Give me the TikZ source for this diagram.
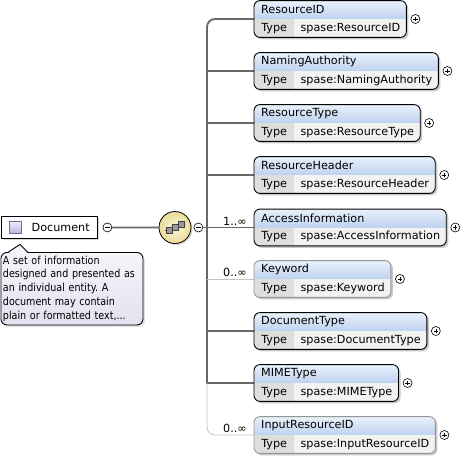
\documentclass[tikz,border=0pt]{standalone}
\usepackage{fontspec}
\setmainfont{DejaVu Sans}
\newfontfamily\notefont[FakeStretch=0.87]{DejaVu Sans}
\usetikzlibrary{positioning,shadows}
\definecolor{linegrey}{RGB}{104,104,104}
\definecolor{optgrey}{RGB}{196,196,196}
\definecolor{optframe}{RGB}{150,150,150}
\definecolor{headtop}{RGB}{234,241,251}
\definecolor{headbot}{RGB}{190,210,240}
\definecolor{keygrey}{RGB}{222,222,222}
\definecolor{valgrey}{RGB}{242,242,242}
\definecolor{notetop}{RGB}{245,244,251}
\definecolor{notebot}{RGB}{228,225,240}
\definecolor{seqyellow}{RGB}{250,244,200}
\definecolor{seqedge}{RGB}{232,220,150}
\definecolor{lavender}{RGB}{190,176,228}
\pgfdeclarelayer{background}
\pgfsetlayers{background,main}
\tikzset{
  keycell/.style={minimum width=40pt,minimum height=18pt,inner sep=0pt},
  valcell/.style={minimum height=18pt,inner ysep=0pt,inner xsep=6pt},
  headcell/.style={anchor=south west,minimum height=18pt,inner ysep=0pt,inner xsep=7pt},
  reqframe/.style={draw=black,line width=0.9pt,rounded corners=6pt},
  optbox/.style={draw=optframe,line width=0.9pt,rounded corners=6pt},
  boxshadow/.style={fill=black,opacity=0.22,rounded corners=6pt},
  pm/.style={circle,draw=black,fill=white,line width=0.6pt,minimum size=9pt,inner sep=0pt},
  plus/.style={pm,path picture={
      \draw[line width=0.6pt] ([xshift=-2.2pt]path picture bounding box.center) -- ([xshift=2.2pt]path picture bounding box.center);
      \draw[line width=0.6pt] ([yshift=-2.2pt]path picture bounding box.center) -- ([yshift=2.2pt]path picture bounding box.center);}},
  minus/.style={pm,path picture={
      \draw[line width=0.6pt] ([xshift=-2.2pt]path picture bounding box.center) -- ([xshift=2.2pt]path picture bounding box.center);}},
  req/.style={draw=linegrey,line width=1.8pt},
  opt/.style={draw=optgrey,line width=0.8pt},
  mult/.style={anchor=south east,inner sep=1pt},
  docbox/.style={draw=black,fill=white,line width=0.9pt,minimum width=96pt,minimum height=22pt,inner sep=0pt,
    drop shadow={shadow xshift=2pt,shadow yshift=-2pt,opacity=0.3}},
  docicon/.style={draw=lavender!60!black,line width=0.5pt,top color=lavender!25,bottom color=lavender,minimum size=12pt,inner sep=0pt},
  note/.style={draw=black,line width=0.9pt,rounded corners=6pt,top color=notetop,bottom color=notebot,
    text width=138pt,align=left,inner xsep=2pt,minimum height=70pt,font=\notefont\fontsize{11}{13.8}\selectfont\frenchspacing,
    drop shadow={shadow xshift=2pt,shadow yshift=-2pt,opacity=0.25}},
  seqnode/.style={circle,draw=black,line width=0.8pt,inner color=seqyellow!60,outer color=seqedge,minimum size=32pt,
    drop shadow={shadow xshift=1.5pt,shadow yshift=-1.5pt,opacity=0.3}},
  seqicon/.style={draw=black!75,fill=black!40,line width=0.6pt}
}
% one element of the sequence: name, top, element, type, frame style
\newcommand{\XsdElem}[5]{%
  \node[keycell,anchor=north west] (#1-key) at (254,#2+18) {Type};
  \node[valcell,right=0pt of #1-key] (#1-val) {#4};
  \node[headcell] (#1-head) at (#1-key.north west) {#3};
  \coordinate (#1) at (#1-key.north west);
  \begin{pgfonlayer}{background}
    \fill[boxshadow] ([shift={(2,2)}]#1-head.north west) rectangle ([shift={(2,2)}]#1-val.south east);
    \begin{scope}
      \clip[rounded corners=6pt] (#1-head.north west) rectangle (#1-val.south east);
      \shade[top color=headtop,bottom color=headbot] (#1-head.north west) rectangle (#1-val.north east);
      \fill[keygrey] (#1-key.north west) rectangle (#1-key.south east);
      \fill[valgrey] (#1-val.north west) rectangle (#1-val.south east);
    \end{scope}
  \end{pgfonlayer}
  \draw[#5] (#1-head.north west) rectangle (#1-val.south east);
  \node[plus] (#1-plus) at ([xshift=9pt]#1-val.north east) {};
}

\begin{document}
\begin{tikzpicture}[x=1pt,y=-1pt,font=\fontsize{11.2}{13}\selectfont]
  \useasboundingbox (0,0) rectangle (465,460);

  % the Document element and its note
  \node[docbox,anchor=north west] (doc) at (0.5,216) {};
  \node[docicon] (doc-icon) at ([xshift=15pt]doc.west) {};
  \node[anchor=west,inner sep=0pt] (doc-name) at ([xshift=31pt]doc.west) {Document};
  \node[minus] (doc-minus) at ([xshift=10pt]doc.east) {};
  \node[note,anchor=north west] (doc-note) at (0.5,252) {A set of information\\designed and presented as\\an individual entity. A\\document may contain\\plain or formatted text,...};
  \coordinate (note-tip) at ([shift={(19.5,5.5)}]doc.south west);
  \fill[notetop] ([shift={(8,1)}]doc-note.north west) -- (note-tip) -- ([shift={(27,1)}]doc-note.north west) -- cycle;
  \draw[line width=0.9pt] ([xshift=8pt]doc-note.north west) -- (note-tip) -- ([xshift=27pt]doc-note.north west);

  % sequence compositor
  \node[seqnode] (seq) at (175,227.5) {};
  \draw[line width=0.7pt,black!75] ([shift={(-10,3)}]seq.center) -- ([shift={(10,-3)}]seq.center);
  \draw[seqicon] ([shift={(-9,0)}]seq.center) rectangle ++(6,6);
  \draw[seqicon] ([shift={(-3,-3)}]seq.center) rectangle ++(6,6);
  \draw[seqicon] ([shift={(3,-6)}]seq.center) rectangle ++(6,6);
  \node[minus] (seq-minus) at ([xshift=7pt]seq.east) {};
  \coordinate (trunk) at (207,227.5);

  % children
  \XsdElem{rid}{1}{ResourceID}{spase:ResourceID}{reqframe}
  \XsdElem{nauth}{53}{NamingAuthority}{spase:NamingAuthority}{reqframe}
  \XsdElem{rtype}{105}{ResourceType}{spase:ResourceType}{reqframe}
  \XsdElem{rhead}{157}{ResourceHeader}{spase:ResourceHeader}{reqframe}
  \XsdElem{acc}{209.5}{AccessInformation}{spase:AccessInformation}{reqframe}
  \XsdElem{kw}{261}{Keyword}{spase:Keyword}{optbox}
  \XsdElem{dtype}{313}{DocumentType}{spase:DocumentType}{reqframe}
  \XsdElem{mime}{365}{MIMEType}{spase:MIMEType}{reqframe}
  \XsdElem{irid}{417}{InputResourceID}{spase:InputResourceID}{optbox}

  % connectors
  \begin{pgfonlayer}{background}
    \draw[req] (doc-minus) -- (seq);
    \draw[req] (seq-minus) -- (trunk) -- (acc);
    \draw[req,rounded corners=8pt] (rid) -| (trunk);
    \draw[req] (trunk) |- (mime);
    \draw[req] (trunk |- nauth) -- (nauth);
    \draw[req] (trunk |- rtype) -- (rtype);
    \draw[req] (trunk |- rhead) -- (rhead);
    \draw[req] (trunk |- dtype) -- (dtype);
    \draw[opt] (trunk |- kw) -- (kw);
    \draw[opt,rounded corners=8pt] (trunk |- mime) |- (irid);
  \end{pgfonlayer}
  \node[mult] (acc-mult) at ([xshift=-6pt,yshift=1pt]acc) {1..∞};
  \node[mult] (kw-mult) at ([xshift=-6pt,yshift=1pt]kw) {0..∞};
  \node[mult] (irid-mult) at ([xshift=-6pt,yshift=1pt]irid) {0..∞};
\end{tikzpicture}
\end{document}
